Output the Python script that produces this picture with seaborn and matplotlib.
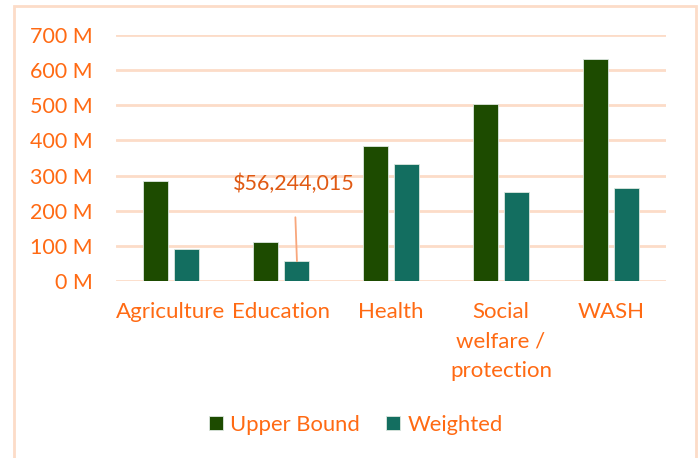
import pandas as pd
import matplotlib
matplotlib.use("Agg")
import matplotlib.pyplot as plt
import seaborn as sns
from matplotlib.patches import Rectangle
from matplotlib.ticker import FuncFormatter

# data
categories = ["Agriculture", "Education", "Health", "Social\nwelfare /\nprotection", "WASH"]
upper_bound = [284e6, 111e6, 384e6, 505e6, 631e6]
weighted = [92e6, 56244015, 333e6, 252e6, 264e6]
series = ["Upper Bound", "Weighted"]

df = pd.DataFrame({
    "category": categories * 2,
    "value": upper_bound + weighted,
    "series": [series[0]] * len(categories) + [series[1]] * len(categories),
})

orange = "#FF6A13"
grid_col = "#FCDCC8"
palette = {"Upper Bound": "#1D4B00", "Weighted": "#136E60"}

sns.set_theme(style="white")
plt.rcParams["font.family"] = ["Lato", "DejaVu Sans"]

fig = plt.figure(figsize=(6.99, 4.58), dpi=100)
W, H = 699, 458
ax = fig.add_axes([116 / W, 1 - 281 / H, 550 / W, (281 - 35) / H])

sns.barplot(data=df, x="category", y="value", hue="series", palette=palette,
            saturation=1, width=0.56, gap=0.19, ax=ax, edgecolor="#DDE8E0",
            linewidth=0.6, zorder=3)

ax.set_xlim(-0.5, 4.5)
ax.set_ylim(0, 700e6)
ax.set_yticks([i * 100e6 for i in range(8)])
ax.yaxis.set_major_formatter(FuncFormatter(lambda v, p: f"{v / 1e6:.0f} M"))
ax.grid(axis="y", color=grid_col, linewidth=2, zorder=0)
ax.set_axisbelow(True)
for s in ax.spines.values():
    s.set_visible(False)
ax.tick_params(axis="both", length=0, labelcolor=orange, labelsize=16)
ax.tick_params(axis="y", labelsize=15.5, pad=17)
ax.tick_params(axis="x", pad=15)
for lbl in ax.get_xticklabels():
    lbl.set_linespacing(1.6)
    lbl.set_verticalalignment("top")
ax.set_xlabel("")
ax.set_ylabel("")

# callout for the Education weighted bar
edu_w = weighted[1]
ax.annotate(f"${edu_w:,.0f}", xy=(1.145, edu_w), xytext=(1.12, 275e6),
            color="#E05A14", fontsize=15.5, ha="center", va="center",
            arrowprops=dict(arrowstyle="-", color="#F8A77C", lw=1.3,
                            shrinkA=14, shrinkB=0))

leg = ax.legend(loc="center", bbox_to_anchor=(356 / W, 1 - 425 / H),
                bbox_transform=fig.transFigure, ncol=2, frameon=False,
                fontsize=15.8, handlelength=0.6, handleheight=0.6,
                handletextpad=0.35, columnspacing=1.2)
for t in leg.get_texts():
    t.set_color(orange)

fig.patches.append(Rectangle((14 / W, -0.02), (696 - 14) / W, 1 - 6 / H + 0.02,
                             transform=fig.transFigure, fill=False,
                             edgecolor=grid_col, linewidth=2))

fig.savefig("out.png", dpi=100)
